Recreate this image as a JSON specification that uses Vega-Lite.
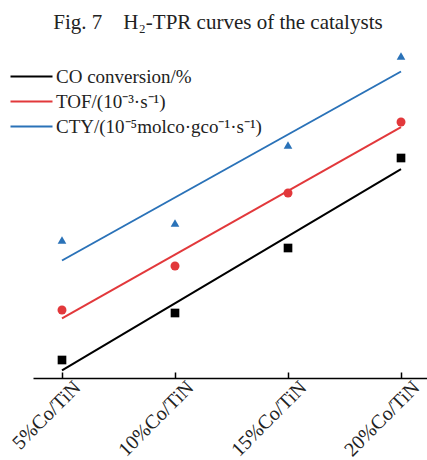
{
  "$schema": "https://vega.github.io/schema/vega-lite/v6.json",
  "width": 394,
  "height": 340,
  "autosize": {"type": "none"},
  "padding": {"left": 33, "top": 38, "right": 0, "bottom": 82},
  "background": "white",
  "title": {
    "text": "Fig. 7\u2003H₂-TPR curves of the catalysts",
    "font": "Liberation Serif",
    "fontSize": 21,
    "fontWeight": "normal",
    "color": "#222",
    "anchor": "middle",
    "offset": 5,
    "dx": -12
  },
  "config": {
    "view": {"stroke": null}
  },
  "data": {
    "values": [
      {"sample": "5%Co/TiN", "loading": 5, "series": "CO conversion/%", "value": 18},
      {"sample": "10%Co/TiN", "loading": 10, "series": "CO conversion/%", "value": 65},
      {"sample": "15%Co/TiN", "loading": 15, "series": "CO conversion/%", "value": 130},
      {"sample": "20%Co/TiN", "loading": 20, "series": "CO conversion/%", "value": 220},
      {"sample": "5%Co/TiN", "loading": 5, "series": "TOF/(10⁻³·s⁻¹)", "value": 68},
      {"sample": "10%Co/TiN", "loading": 10, "series": "TOF/(10⁻³·s⁻¹)", "value": 112},
      {"sample": "15%Co/TiN", "loading": 15, "series": "TOF/(10⁻³·s⁻¹)", "value": 185},
      {"sample": "20%Co/TiN", "loading": 20, "series": "TOF/(10⁻³·s⁻¹)", "value": 256},
      {"sample": "5%Co/TiN", "loading": 5, "series": "CTY/(10⁻⁵molco·gco⁻¹·s⁻¹)", "value": 138},
      {"sample": "10%Co/TiN", "loading": 10, "series": "CTY/(10⁻⁵molco·gco⁻¹·s⁻¹)", "value": 155},
      {"sample": "15%Co/TiN", "loading": 15, "series": "CTY/(10⁻⁵molco·gco⁻¹·s⁻¹)", "value": 233},
      {"sample": "20%Co/TiN", "loading": 20, "series": "CTY/(10⁻⁵molco·gco⁻¹·s⁻¹)", "value": 322}
    ]
  },
  "encoding": {
    "x": {
      "field": "loading",
      "type": "quantitative",
      "scale": {"domain": [3.717, 21.15], "nice": false, "zero": false},
      "axis": {
        "title": null,
        "values": [5, 10, 15, 20],
        "labelExpr": "datum.value + '%Co/TiN'",
        "grid": false,
        "domainColor": "#000",
        "domainWidth": 1.5,
        "tickColor": "#000",
        "tickWidth": 1.5,
        "tickSize": -6,
        "labelPadding": 5,
        "labelOffset": 8,
        "labelAngle": -45,
        "labelAlign": "right",
        "labelBaseline": "top",
        "labelFont": "Liberation Serif",
        "labelFontSize": 20,
        "labelColor": "#222"
      }
    },
    "y": {
      "field": "value",
      "type": "quantitative",
      "scale": {"domain": [0, 340], "nice": false},
      "axis": null
    },
    "color": {
      "field": "series",
      "type": "nominal",
      "scale": {
        "domain": ["CO conversion/%", "TOF/(10⁻³·s⁻¹)", "CTY/(10⁻⁵molco·gco⁻¹·s⁻¹)"],
        "range": ["#000000", "#e2383b", "#2a72b8"]
      },
      "legend": {
        "title": null,
        "orient": "none",
        "legendX": -11,
        "legendY": 29,
        "symbolType": "M-3,0H3",
        "symbolSize": 196,
        "symbolStrokeWidth": 2,
        "labelFont": "Liberation Serif",
        "labelFontSize": 19,
        "labelColor": "#222",
        "labelOffset": 15,
        "rowPadding": 5,
        "labelLimit": 400
      }
    }
  },
  "layer": [
    {
      "transform": [
        {"regression": "value", "on": "loading", "groupby": ["series"], "method": "linear", "extent": [5, 20]}
      ],
      "mark": {"type": "line", "strokeWidth": 2}
    },
    {
      "transform": [{"filter": "datum.series === 'CO conversion/%'"}],
      "mark": {"type": "point", "shape": "square", "filled": true, "opacity": 1, "size": 75}
    },
    {
      "transform": [{"filter": "datum.series === 'TOF/(10⁻³·s⁻¹)'"}],
      "mark": {"type": "point", "shape": "circle", "filled": true, "opacity": 1, "size": 80}
    },
    {
      "transform": [{"filter": "datum.series === 'CTY/(10⁻⁵molco·gco⁻¹·s⁻¹)'"}],
      "mark": {"type": "point", "shape": "triangle-up", "filled": true, "opacity": 1, "size": 75}
    }
  ]
}
